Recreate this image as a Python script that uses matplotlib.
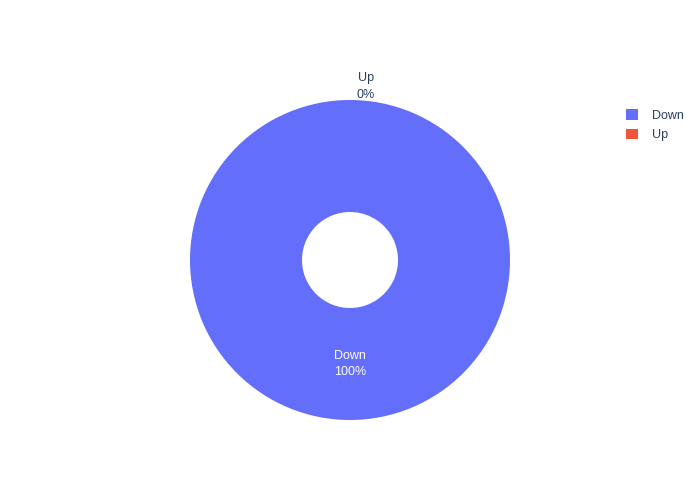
import numpy as np
import matplotlib.pyplot as plt
from matplotlib.patches import Patch

labels = ['Down', 'Up']
values = [100, 0]
colors = ['#636efa', '#ef553b']
hole = 0.3

plt.rcParams['font.family'] = ['Liberation Sans', 'DejaVu Sans']
text_col = '#2a3f5f'

fig = plt.figure(figsize=(7, 5), dpi=100)
ax = fig.add_axes([190 / 700, 80 / 500, 320 / 700, 320 / 500])

ax.pie(values, colors=colors, startangle=90, counterclock=False, radius=1,
       wedgeprops=dict(width=1 - hole, edgecolor='white', linewidth=0))
ax.set_xlim(-1, 1)
ax.set_ylim(-1, 1)
ax.set_aspect('equal')
ax.axis('off')

# slice labels, placed like plotly's auto textposition
total = float(sum(values))
start = 90.0
for lab, v in zip(labels, values):
    frac = v / total
    span = frac * 360
    mid = np.deg2rad(start - span / 2)
    start -= span
    pct = '%d%%' % round(frac * 100)
    if frac > 0.05:
        r = (1 + hole) / 2
        ax.text(r * np.cos(mid), r * np.sin(mid), lab + '\n' + pct, color='white',
                ha='center', va='center', fontsize=9, linespacing=1.55)
    else:
        r = 0.995
        ax.text(r * np.cos(mid) + 0.1, r * np.sin(mid), lab + '\n' + pct, color=text_col,
                ha='center', va='bottom', fontsize=9, linespacing=1.55, clip_on=False)

handles = [Patch(facecolor=c, edgecolor='none') for c in colors]
fig.legend(handles, labels, loc='upper left', bbox_to_anchor=(615 / 700, 1 - 98 / 500),
           frameon=False, fontsize=9, handlelength=0.9, handleheight=0.9,
           handletextpad=1.15, labelspacing=0.55, labelcolor=text_col)

fig.savefig('out.png', dpi=100)
